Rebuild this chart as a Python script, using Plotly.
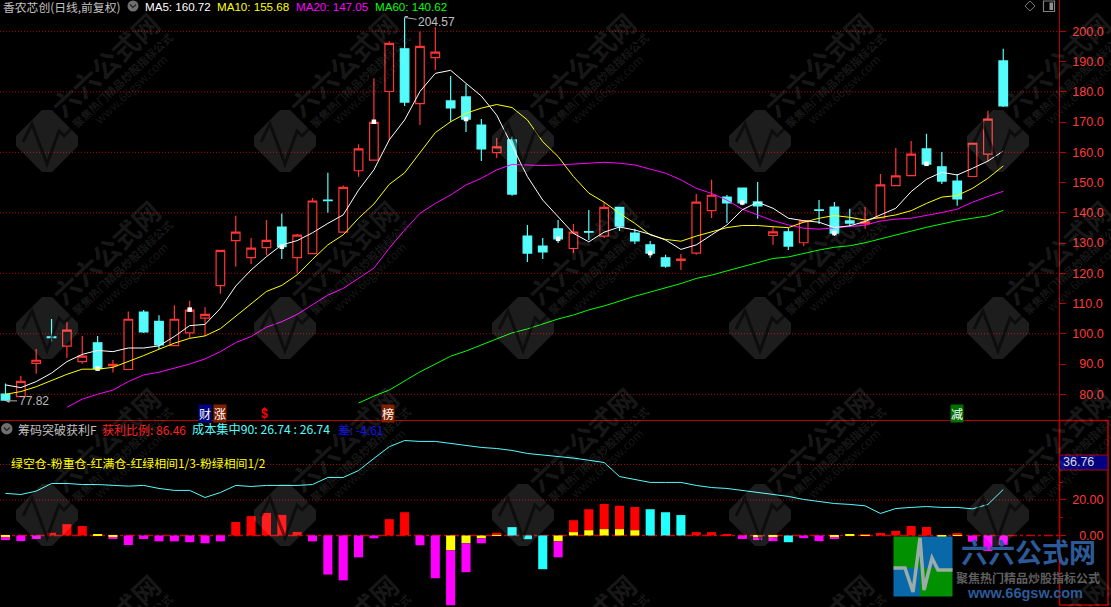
import plotly.graph_objects as go

W, H = 1111, 607

# ---------- data ----------
opens = [80.1,79.2,90.25,98.95,95.9,90.8,97.0,89.5,88.2,107.2,104.1,96.1,100.3,105.2,115.9,130.8,125.2,128.5,135.3,125.2,
         126.5,144.2,133.6,153.9,157.4,180.1,194.2,176.1,191.3,177.0,178.3,169.0,159.9,164.1,132.3,129.0,134.7,128.2,133.8,132.3,
         141.8,133.3,129.4,125.1,124.3,126.7,140.7,145.2,148.2,143.6,132.5,133.7,130.1,141.0,141.9,137.3,136.4,138.3,149.0,152.3,
         161.1,155.2,150.5,152.0,159.4,190.2]
highs = [83.6,86.1,95.0,104.9,103.9,99.3,99.3,91.3,107.4,107.9,106.1,109.4,110.9,108.8,127.6,139.0,131.7,137.6,139.8,133.0,
         144.9,153.2,149.0,162.7,184.5,196.7,204.57,199.9,201.3,185.2,182.5,171.0,164.7,165.2,136.0,131.7,137.6,136.3,140.9,143.6,
         141.8,134.7,130.7,126.1,126.4,146.2,150.9,145.9,148.2,150.2,135.4,135.0,137.6,144.2,143.6,141.3,141.9,152.8,161.4,163.7,
         166.1,160.1,152.8,163.1,173.7,194.2]
lows = [77.82,79.2,86.8,97.4,92.1,90.1,87.8,87.2,88.2,100.3,95.0,96.1,98.5,99.3,113.2,122.2,123.1,126.0,124.7,120.0,
        126.5,140.0,133.6,151.9,157.4,164.1,175.3,169.0,187.2,170.1,166.7,157.1,158.1,145.6,123.7,124.7,130.0,126.7,131.0,131.7,
        134.0,129.7,125.1,121.8,121.1,126.1,138.3,136.6,142.5,138.0,129.4,127.7,129.0,136.3,132.3,135.3,134.7,138.3,149.0,152.3,
        155.6,149.5,142.3,152.0,157.0,175.0]
closes = [78.1,84.3,91.25,98.75,101.2,92.6,88.5,89.9,104.8,100.6,96.3,104.8,107.8,106.4,127.6,133.6,128.3,130.9,128.8,132.6,
          143.9,144.0,148.4,161.1,169.9,196.0,176.6,195.0,193.1,174.7,171.0,161.1,161.8,146.2,126.7,127.1,131.4,133.6,133.6,141.8,
          135.6,130.7,126.7,122.4,124.7,143.5,145.8,143.3,143.3,142.3,133.7,129.0,137.3,140.8,133.3,136.6,137.0,149.2,152.2,159.4,
          156.1,150.5,144.6,163.0,171.0,175.3]
days = list(range(len(opens)))

ma5 = [83.1,82.2,84.2,87.0,90.8,93.2,94.5,94.1,95.3,95.3,96.0,99.1,102.7,103.1,108.4,115.8,121.1,125.5,129.4,130.8,
       133.4,136.5,139.3,147.5,154.2,164.1,170.7,180.1,186.1,187.1,182.8,178.6,172.3,161.9,152.0,144.2,138.7,133.2,130.4,133.6,
       135.3,134.3,132.9,131.0,127.9,129.4,132.7,136.0,141.0,143.5,141.5,138.2,137.4,136.9,135.1,135.7,137.1,139.3,141.5,147.0,
       151.1,153.4,152.5,154.7,157.1,160.4]
ma10 = [80.0,80.9,82.5,84.5,86.6,88.3,88.3,88.9,90.8,92.8,94.9,96.9,98.5,99.3,101.7,105.9,110.1,114.0,116.0,119.5,
        124.6,129.4,132.7,138.2,142.9,149.4,153.2,159.7,166.5,170.1,172.9,174.6,175.8,174.8,170.7,163.5,158.6,152.0,146.5,143.5,
        139.8,136.5,132.7,131.2,130.6,132.3,133.8,135.1,135.8,135.8,135.4,135.1,136.9,138.2,139.1,138.5,137.6,138.5,139.3,140.7,
        143.1,145.2,145.7,148.1,151.4,155.5]
ma20 = [None]*4 + [75.7,78.4,80.0,81.4,84.2,86.4,87.3,88.6,90.0,91.7,94.1,97.1,99.1,102.2,104.0,106.4,
        109.5,112.8,115.0,118.3,121.7,128.3,134.3,139.8,143.1,145.9,149.2,151.4,154.2,156.0,155.9,155.6,155.8,156.0,156.4,156.7,
        156.4,155.8,154.5,153.1,150.9,148.1,146.4,144.2,141.2,139.3,137.4,136.0,134.9,134.6,135.0,135.4,135.9,137.3,137.9,138.2,
        139.1,140.1,141.2,143.5,145.4,147.1]
ma60_known = [77.1,79.4,81.4,84.4,87.4,90.0,92.6,94.3,96.3,98.3,100.3,101.6,103.2,104.9,106.2,107.9,109.2,110.9,112.4,113.8,
              115.1,116.6,118.3,119.4,120.8,122.1,123.6,124.9,125.4,126.6,127.7,128.6,129.1,130.1,131.4,132.7,133.8,135.2,136.3,137.4,
              138.2,139.0,140.8]
ma60 = [None]*(len(days)-len(ma60_known)) + ma60_known

mark_days = [6,12,18,24,30,36,42,48,54,60]
mark_vals = [88.5,108.0,128.8,170.1,171.0,131.4,126.7,143.4,133.3,156.2]

chip_line = [23.7,23.1,25.0,29.3,29.3,28.7,28.7,28.4,27.8,28.2,26.5,25.4,25.4,21.4,24.2,28.2,27.6,28.2,28.2,28.2,
             28.7,32.7,32.7,36.6,43.4,50.0,53.5,53.0,53.0,51.8,50.7,49.6,49.0,47.9,46.2,45.4,44.5,43.6,42.4,41.1,
             33.2,31.4,29.9,29.9,29.9,28.2,27.0,26.5,25.4,24.2,23.1,22.0,20.3,19.2,18.0,17.5,16.7,12.4,15.2,15.8,
             16.3,15.8,15.8,15.0,17.5,25.9]
bar_yellow = [-0.9,0,0,0,0,0,0.4,-0.9,0,0,0,0,0,0,0,0,0,0,0,0,
              0,0,0,0,0,0,0,0,0,-8.4,-4.4,-1.6,0.4,0,0,0,-3.3,1.9,3.0,3.6,
              3.6,3.0,0,0,0,0,0,0,0,-1.0,-1.0,0,0,0,-1.0,0.3,0.4,0,0,0,
              0,-0.9,0.3,0,0,0]
bar_main = [-1.7,-3.2,-2.0,1.5,6.4,5.3,0,-0.7,-5.4,-2.0,-3.3,-3.3,-3.8,-4.4,-3.3,7.6,10.9,12.7,11.6,2.0,
            -3.3,-22.0,-25.3,-12.3,-1.6,9.2,13.1,-5.5,-24.1,-30.9,-16.3,-2.8,1.1,4.7,-2.1,-19.0,-9.0,6.7,11.8,14.2,
            13.1,13.0,14.8,13.1,11.5,1.9,1.9,0.3,-2.0,-1.6,-2.2,-3.8,-1.5,-3.2,-0.6,0,0.3,1.4,2.6,5.3,
            4.8,0,0.6,-3.5,-8.8,-5.3]
bar_kind = list("mmm" "rrr" "m" "mmmmmmmm" "rrrrr" "mmmmm" "rr" "mmmmm" "r" "ccc" "m" "rrrrr"
                "ccc" "rrr" "mmm" "c" "mmm" "m" "rrrrr" "m" "r" "mmm")

price_ticks = [200,190,180,170,160,150,140,130,120,110,100,90,80]
price_grid = [200,180,160,140,120,100,80]
chip_ticks = [20,0]
chip_minor = [30,10]
chip_grid = [40,20]

# ---------- helpers ----------
def px(x): return x / W
def py(y): return 1 - y / H
def P(points, close=False):
    s = "M" + " L".join(f"{px(a):.5f},{py(b):.5f}" for a, b in points)
    return s + (" Z" if close else "")

GRIDRED = "#b00000"
AXRED = "#b40000"
TXTRED = "#ff3838"
CYAN = "#54fcfc"
FONT = "Liberation Sans, Noto Sans CJK SC"
CJK = "Noto Sans CJK SC, Liberation Sans"

XDOM_R = 1058.7
x0 = 5.5
step = 15.35

fig = go.Figure()
fig.add_trace(go.Candlestick(
    x=days, open=opens, high=highs, low=lows, close=closes,
    whiskerwidth=0, xaxis="x", yaxis="y",
    increasing=dict(line=dict(color="#ff3434", width=1.2), fillcolor="#000000"),
    decreasing=dict(line=dict(color=CYAN, width=1.2), fillcolor=CYAN),
))
fig.add_trace(go.Scatter(x=mark_days, y=mark_vals, mode="markers", xaxis="x", yaxis="y",
                         marker=dict(symbol="square", size=4.5, color="#ffffff")))
for vals, col in [(ma60, "#00ff00"), (ma20, "#ff00ff"), (ma10, "#ffff00"), (ma5, "#ffffff")]:
    fig.add_trace(go.Scatter(x=days, y=vals, mode="lines", xaxis="x", yaxis="y",
                             line=dict(color=col, width=1)))

kind_col = {"m": "#ff00ff", "r": "#ff0000", "c": "#22ffff"}
fig.add_trace(go.Bar(x=days, y=bar_yellow, xaxis="x", yaxis="y2", width=0.59,
                     marker=dict(color="#ffff00", line=dict(width=0))))
fig.add_trace(go.Bar(x=days, y=bar_main, xaxis="x", yaxis="y2", width=0.59,
                     marker=dict(color=[kind_col[k] for k in bar_kind], line=dict(width=0))))
fig.add_trace(go.Scatter(x=days, y=chip_line, mode="lines", xaxis="x", yaxis="y2",
                         line=dict(color=CYAN, width=1)))

shapes = []
for v in price_grid:
    shapes.append(dict(type="line", layer="below", xref="paper", yref="y", x0=0, x1=px(XDOM_R), y0=v, y1=v,
                       line=dict(color=GRIDRED, width=1, dash="1px,2px")))
for v in chip_grid:
    shapes.append(dict(type="line", layer="below", xref="paper", yref="y2", x0=0, x1=px(XDOM_R), y0=v, y1=v,
                       line=dict(color=GRIDRED, width=1, dash="1px,2px")))
shapes.append(dict(type="line", layer="below", xref="paper", yref="y2", x0=0, x1=px(XDOM_R), y0=0, y1=0,
                   line=dict(color="#c80000", width=1.5, dash="dashdot")))
shapes.append(dict(type="line", xref="paper", yref="paper", x0=0, x1=px(1059), y0=py(420.5), y1=py(420.5),
                   line=dict(color=AXRED, width=1.2)))
shapes.append(dict(type="rect", xref="paper", yref="paper", x0=px(1059.5), x1=px(1108), y0=py(420.5), y1=py(605),
                   line=dict(color=AXRED, width=1.6)))
shapes.append(dict(type="rect", xref="paper", yref="paper", x0=px(1059.5), x1=px(1108), y0=py(455), y1=py(470),
                   fillcolor="#000080", line=dict(color=AXRED, width=1)))
shapes.append(dict(type="circle", xref="paper", yref="paper", x0=px(127.5), x1=px(138.5), y0=py(0.5), y1=py(11.5),
                   fillcolor="#707070", line=dict(width=0)))
shapes.append(dict(type="path", xref="paper", yref="paper", path=P([(130,4.5),(133,7.5),(136,4.5)]),
                   line=dict(color="#222222", width=1.2)))
shapes.append(dict(type="circle", xref="paper", yref="paper", x0=px(1), x1=px(12.5), y0=py(423), y1=py(434.5),
                   fillcolor="#707070", line=dict(width=0)))
shapes.append(dict(type="path", xref="paper", yref="paper", path=P([(3.8,427.5),(6.8,430.5),(9.8,427.5)]),
                   line=dict(color="#222222", width=1.2)))
shapes.append(dict(type="path", xref="paper", yref="paper", path=P([(1030,1),(1035,6),(1030,11),(1025,6)], True),
                   line=dict(color="#777777", width=1)))
shapes.append(dict(type="rect", xref="paper", yref="paper", x0=px(1043.5), x1=px(1054.5), y0=py(1), y1=py(11.5),
                   line=dict(color="#808080", width=1.2)))
shapes.append(dict(type="rect", xref="paper", yref="paper", x0=px(1049.5), x1=px(1053), y0=py(2.5), y1=py(10),
                   fillcolor="#909090", line=dict(width=0)))
shapes.append(dict(type="line", xref="paper", yref="paper", x0=px(404.7), x1=px(408), y0=py(16.5), y1=py(16.5),
                   line=dict(color="#b0b0b0", width=1)))

annotations = []
def label(x, y, text, color, size=12, family=FONT, **kw):
    annotations.append(dict(xref="paper", yref="paper", x=px(x), y=py(y), text=text, showarrow=False,
                            xanchor=kw.pop("xanchor", "left"), yanchor="middle",
                            font=dict(color=color, size=size, family=family), **kw))

# watermark tiles
for cx in [47, 285, 523, 760, 998]:
    for cy in [141, 328, 515, 702]:
        if cy < H:
            r = 36; c = 5
            d = [(cx-r+c,cy-c),(cx-c,cy-r+c),(cx+c,cy-r+c),(cx+r-c,cy-c),(cx+r-c,cy+c),(cx+c,cy+r-c),(cx-c,cy+r-c),(cx-r+c,cy+c)]
            shapes.append(dict(type="path", xref="paper", yref="paper", layer="above", path=P(d, True),
                               fillcolor="rgba(255,255,255,0.115)", line=dict(width=0)))
            pulse = [(cx-24,cy+1),(cx-15,cy-17),(cx,cy+23),(cx+12,cy-10),(cx+17,cy-5),(cx+25,cy-13)]
            shapes.append(dict(type="path", xref="paper", yref="paper", layer="above", path=P(pulse),
                               line=dict(color="rgba(0,0,0,0.55)", width=3)))
        for dx, dy, t, s, b in [(58,-76,"六六公式网",27,True),(75,-61,"聚焦热门精品炒股指标公式",11,True),(84,-52,"www.66gsw.com",12,False)]:
            if cy + dy - 50 < H:
                annotations.append(dict(xref="paper", yref="paper", x=px(cx+dx), y=py(cy+dy), text=f"<b>{t}</b>" if b else t,
                                        showarrow=False, textangle=-43, xanchor="center", yanchor="middle",
                                        font=dict(color="rgba(255,255,255,0.10)", size=s, family=CJK)))

# header text
label(1, 6, "香农芯创(日线,前复权)", "#c0c0c0", 11.8, CJK)
label(143, 6, "MA5: 160.72", "#ffffff", 11.6)
label(215, 6, "MA10: 155.68", "#ffff00", 11.6)
label(294, 6, "MA20: 147.05", "#ff00ff", 11.6)
label(373, 6, "MA60: 140.62", "#00ff00", 11.6)
label(16, 429, "筹码突破获利F", "#c0c0c0", 12, CJK)
label(100, 429, "获利比例: 86.46", "#ff2020", 12, CJK)
label(190, 429, "成本集中90: 26.74 : 26.74", CYAN, 12.2, CJK)
label(336, 429, "差: -4.61", "#1010ff", 12, CJK)
label(9, 463, "绿空仓-粉重仓-红满仓-红绿相间1/3-粉绿相间1/2", "#ffff00", 11.9, CJK)
label(1061, 462, "36.76", "#d8d8d8", 12.5)

for cx, t, bg in [(204.5, "财", "#000080"), (219.5, "涨", "#802000"), (388.5, "榜", "#802000"), (957.5, "减", "#007000")]:
    label(cx, 413, t, "#ffffff", 12, CJK, xanchor="center", bgcolor=bg, borderpad=0)
label(264.5, 414, "<b>$</b>", "#ff0000", 12, xanchor="center")
shapes.append(dict(type="path", xref="paper", yref="paper", path=P([(264.5,407),(267.5,410),(261.5,410)], True),
                   fillcolor="#ff0000", line=dict(width=0)))

annotations.append(dict(xref="x", yref="y", x=26, y=204.57, text="204.57", showarrow=True, axref="pixel", ayref="pixel",
                        ax=32, ay=5, arrowhead=0, arrowwidth=1, arrowcolor="#b0b0b0", standoff=0,
                        font=dict(color="#c0c0c0", size=12, family=FONT)))
annotations.append(dict(xref="x", yref="y", x=0, y=77.82, text="77.82", showarrow=True, axref="pixel", ayref="pixel",
                        ax=28, ay=0, arrowhead=2, arrowsize=0.8, arrowwidth=1, arrowcolor="#b0b0b0", standoff=0,
                        font=dict(color="#b8b8b8", size=12, family=FONT)))

# corner logo
L, M, R = 893.5, 920, 952.5
T, C, B = 536.5, 568, 596.5
for a, b, c_, d_, col in [(L,M,T,C,"#009000"),(M,R,T,C,"#0868a8"),(L,M,C,B,"#0868a8"),(M,R,C,B,"#009000")]:
    shapes.append(dict(type="rect", xref="paper", yref="paper", layer="above", x0=px(a), x1=px(b), y0=py(c_), y1=py(d_),
                       fillcolor=col, line=dict(width=0)))
shapes.append(dict(type="path", xref="paper", yref="paper", layer="above",
                   path=P([(L,568),(905,568),(913,592),(920,538),(924,590),(932,558),(938,570),(R,570)]),
                   line=dict(color="#9aaca8", width=3.5)))
label(1028.5, 551.5, "<b>六六公式网</b>", "#2c5a98", 27, CJK, xanchor="center")
label(1028, 577, "<b>聚焦热门精品炒股指标公式</b>", "#5e5e5e", 12, CJK, xanchor="center")
label(1025, 593, "<b>www.66gsw.com</b>", "#2c5a98", 14.5, FONT, xanchor="center")

def txt(v, width, dec):
    s = f"{v:.{dec}f}"
    return "\u00a0\u00a0" * (width - len(s)) + s

fig.update_layout(
    width=W, height=H, autosize=False,
    margin=dict(l=0, r=0, t=0, b=0),
    paper_bgcolor="#000000", plot_bgcolor="#000000",
    showlegend=False, barmode="relative", bargap=0.4, boxgap=0.2,
    hovermode=False,
    xaxis=dict(domain=[0, px(XDOM_R)], range=[(0-x0)/step, (XDOM_R-x0)/step], anchor="y2",
               showgrid=False, zeroline=False, showticklabels=False, ticks="", showline=False,
               rangeslider=dict(visible=False)),
    yaxis=dict(domain=[py(420), 1], range=[71.5, 210.35], side="right", anchor="x",
               tickvals=price_ticks, ticktext=[txt(v, 5, 1) for v in price_ticks],
               showgrid=False, zeroline=False, showline=True, linecolor=AXRED, linewidth=1.3,
               ticks="outside", ticklen=6, tickcolor=AXRED, ticklabelstandoff=4,
               tickfont=dict(color=TXTRED, size=12.5, family=FONT)),
    yaxis2=dict(domain=[0, py(421)], range=[-40.3, 64.5], side="right", anchor="x",
                tickvals=chip_ticks,
                ticktext=[txt(v, 5, 2) for v in chip_ticks],
                showgrid=False, zeroline=False, showline=False,
                ticks="outside", ticklen=6, tickcolor=AXRED, ticklabelstandoff=4,
                minor=dict(tickvals=chip_minor, ticks="outside", ticklen=3, tickcolor=AXRED),
                tickfont=dict(color=TXTRED, size=12.5, family=FONT)),
    shapes=shapes, annotations=annotations,
)
fig.write_html("out.html", config=dict(displayModeBar=False),
               post_script="document.body.style.margin='0';document.documentElement.style.overflow='hidden';document.body.style.background='#000';")
